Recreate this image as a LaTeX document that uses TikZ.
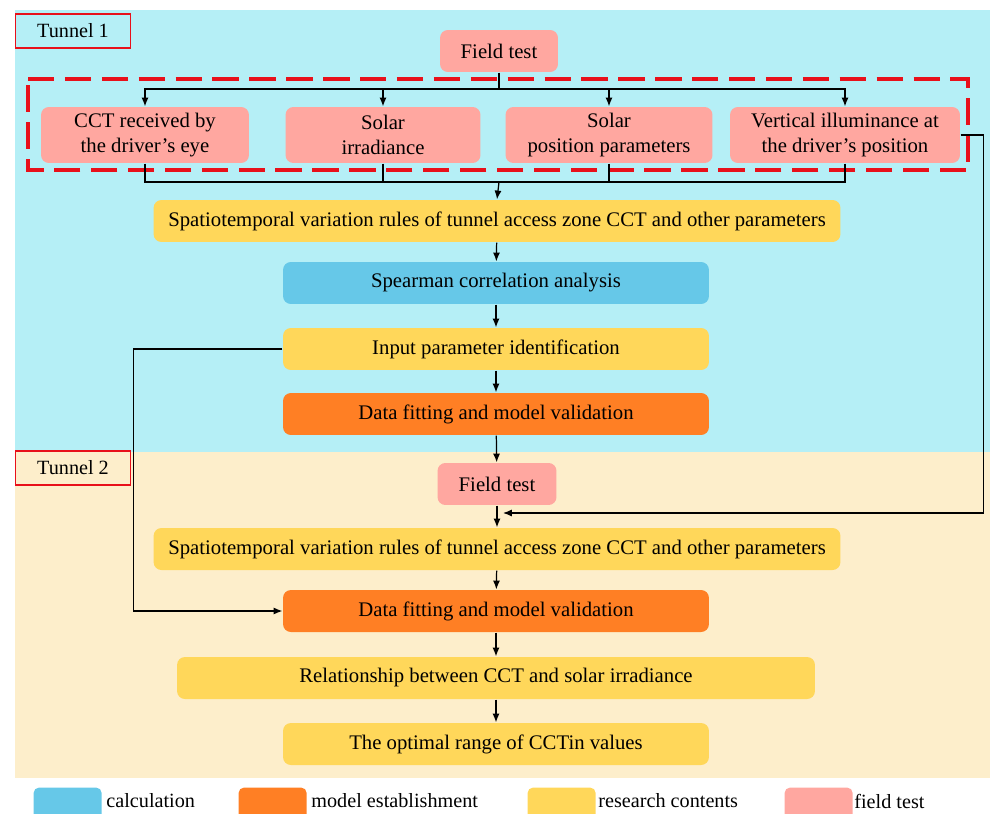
\documentclass[tikz,border=0pt]{standalone}
\usepackage{fontspec}
\setmainfont{Liberation Serif}
\usepackage{tikz}
\usetikzlibrary{arrows.meta,positioning}

\definecolor{bgone}{HTML}{B5EFF6}
\definecolor{bgtwo}{HTML}{FDEECB}
\definecolor{fieldc}{HTML}{FFA7A0}
\definecolor{resc}{HTML}{FFD75A}
\definecolor{modelc}{HTML}{FF7F24}
\definecolor{calcc}{HTML}{66C8E8}
\definecolor{redline}{HTML}{E8101A}

\tikzset{
  box/.style={rounded corners=4.5pt,align=center,inner sep=0pt,
    font=\fontsize{11.8}{14.5}\selectfont,minimum height=0.84cm},
  fieldbox/.style={box,fill=fieldc},
  resbox/.style={box,fill=resc},
  modelbox/.style={box,fill=modelc},
  calcbox/.style={box,fill=calcc},
  tunnel/.style={draw=redline,line width=1pt,minimum width=2.3cm,minimum height=0.68cm,
    font=\fontsize{11.5}{13}\selectfont},
  arr/.style={-{Latex[length=5pt,width=4pt]}},
  conn/.style={line width=0.7pt},
  legbox/.style={rounded corners=3pt,minimum width=1.36cm,minimum height=0.66cm,anchor=north west,inner sep=0pt},
  legtext/.style={font=\fontsize{11.5}{13}\selectfont,inner sep=1pt}
}

\begin{document}
\begin{tikzpicture}[x=0.02cm,y=-0.02cm,conn]
  \useasboundingbox (0,0) rectangle (990,814);
  % backgrounds
  \fill[bgone] (15,10) rectangle (990,452);
  \fill[bgtwo] (15,452) rectangle (990,778);
  \node[tunnel] (t1) at (73,31) {Tunnel 1};
  \node[tunnel] (t2) at (73,468) {Tunnel 2};

  % tunnel 1
  \node[fieldbox,minimum width=2.36cm] (ft1) at (499,51) {Field test};
  \draw[redline,line width=2pt,dash pattern=on 15pt off 6pt] (28,79) -- (968,79) -- (968,170) -- (28,170) -- cycle;
  \node[fieldbox,minimum width=4.16cm,minimum height=1.12cm] (b1) at (145,135) {CCT received by\\the driver's eye};
  \node[fieldbox,minimum width=3.9cm,minimum height=1.12cm] (b2) at (383,135) {Solar\\irradiance};
  \node[fieldbox,minimum width=4.14cm,minimum height=1.12cm] (b3) at (609,135) {Solar\\position parameters};
  \node[fieldbox,minimum width=4.6cm,minimum height=1.12cm] (b4) at (845,135) {Vertical illuminance at\\the driver's position};
  \node[resbox,minimum width=13.74cm] (r1) at (497,221) {Spatiotemporal variation rules of tunnel access zone CCT and other parameters};
  \node[calcbox,minimum width=8.52cm] (sp) at (496,283) {Spearman correlation analysis};
  \node[resbox,minimum width=8.52cm] (ip) at (496,349) {Input parameter identification};
  \node[modelbox,minimum width=8.52cm] (df1) at (496,414) {Data fitting and model validation};

  % tunnel 2
  \node[fieldbox,minimum width=2.38cm] (ft2) at (497,484) {Field test};
  \node[resbox,minimum width=13.74cm] (r2) at (497,549) {Spatiotemporal variation rules of tunnel access zone CCT and other parameters};
  \node[modelbox,minimum width=8.52cm] (df2) at (496,611) {Data fitting and model validation};
  \node[resbox,minimum width=12.76cm] (rel) at (496,678) {Relationship between CCT and solar irradiance};
  \node[resbox,minimum width=8.52cm] (opt) at (496,744) {The optimal range of CCTin values};

  % connectors
  \coordinate (split) at (499,89);
  \coordinate (join) at (499,182);
  \coordinate (fbend) at (503,513);
  \draw (ft1.south) -- (split);
  \foreach \b in {b1,b2,b3,b4} {
    \draw[arr] (split) -| (\b.north);
    \draw (\b.south) |- (join);
  }
  \draw[arr] (join) -- (r1.north);
  \draw[arr] (r1) -- (sp);
  \draw[arr] (sp) -- (ip);
  \draw[arr] (ip) -- (df1);
  \draw[arr] (df1) -- (ft2);
  \draw[arr] (ft2) -- (r2);
  \draw[arr] (b4.east) -- ++(23,0) |- (fbend);
  \draw[arr] (ip.west) -- ++(-149,0) |- (df2.west);
  \draw[arr] (r2) -- (df2);
  \draw[arr] (df2) -- (rel);
  \draw[arr] (rel) -- (opt);

  % legend
  \node[legbox,fill=calcc] (l1) at (33,787) {};
  \node[legtext,anchor=west] (lt1) at (104,801) {calculation};
  \node[legbox,fill=modelc] (l2) at (238,787) {};
  \node[legtext,anchor=west] (lt2) at (309,801) {model establishment};
  \node[legbox,fill=resc] (l3) at (527,787) {};
  \node[legtext,anchor=west] (lt3) at (596,801) {research contents};
  \node[legbox,fill=fieldc] (l4) at (784,787) {};
  \node[legtext,anchor=west] (lt4) at (852,801) {field test};
\end{tikzpicture}
\end{document}
